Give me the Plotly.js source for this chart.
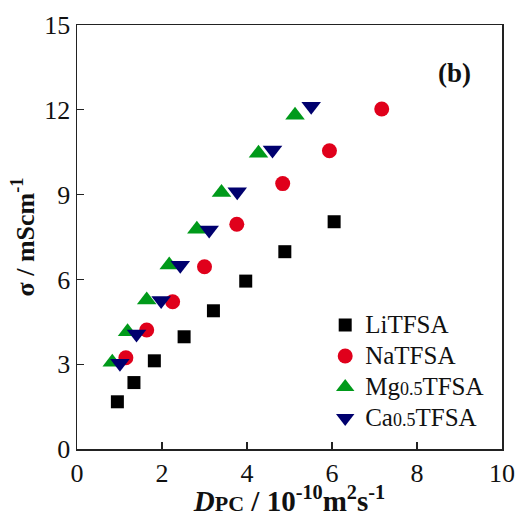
<!DOCTYPE html>
<html>
<head>
<meta charset="utf-8">
<script src="https://cdn.plot.ly/plotly-3.0.1.min.js"></script>
<style>html,body{margin:0;padding:0;background:#fff;}#chart{width:520px;height:517px;}</style>
</head>
<body>
<div id="chart"></div>
<script>
// Data
const liX = [0.95, 1.34, 1.82, 2.52, 3.21, 3.97, 4.89, 6.05];
const liY = [1.67, 2.35, 3.12, 3.97, 4.89, 5.94, 6.98, 8.04];
const naX = [1.15, 1.64, 2.25, 3.00, 3.76, 4.84, 5.94, 7.17];
const naY = [3.23, 4.21, 5.21, 6.45, 7.95, 9.39, 10.55, 12.03];
const mgX = [0.83, 1.19, 1.64, 2.17, 2.82, 3.40, 4.27, 5.13];
const mgY = [3.07, 4.15, 5.27, 6.51, 7.77, 9.07, 10.46, 11.81];
const caX = [1.01, 1.40, 1.98, 2.43, 3.11, 3.77, 4.60, 5.51];
const caY = [3.03, 4.07, 5.25, 6.50, 7.75, 9.10, 10.58, 12.13];
const big = s => '<span style="font-size:25px">' + s + '</span>';
const small = s => '<span style="font-size:18px">' + s + '</span>';
const seriesNames = [big('LiTFSA'), big('NaTFSA'),
                     big('Mg') + small('0.5') + big('TFSA'),
                     big('Ca') + small('0.5') + big('TFSA')];

const font = 'Liberation Serif, Times New Roman, serif';
const traces = [
  {x: liX, y: liY, name: seriesNames[0], mode: 'markers', type: 'scatter',
   marker: {symbol: 'square', size: 13, color: '#000000'}},
  {x: naX, y: naY, name: seriesNames[1], mode: 'markers', type: 'scatter',
   marker: {symbol: 'circle', size: 15, color: '#e0001b'}},
  {x: mgX, y: mgY, name: seriesNames[2], mode: 'markers', type: 'scatter',
   marker: {symbol: 'triangle-up', size: 17, color: '#009a1a'}},
  {x: caX, y: caY, name: seriesNames[3], mode: 'markers', type: 'scatter',
   marker: {symbol: 'triangle-down', size: 17, color: '#00006e'}}
];

const axisCommon = {
  showline: true, mirror: true, linecolor: '#222', linewidth: 1.5,
  ticks: 'inside', ticklen: 7, tickwidth: 1.2, tickcolor: '#222',
  showgrid: false, zeroline: false,
  tickfont: {family: font, size: 26, color: '#111'}
};

const layout = {
  width: 520, height: 517,
  margin: {l: 77, r: 18, t: 25, b: 68},
  paper_bgcolor: '#fff', plot_bgcolor: '#fff',
  font: {family: font, color: '#111'},
  showlegend: true,
  legend: {x: 0.584, y: 0.3405, xanchor: 'left', yanchor: 'top',
           font: {family: font, size: 21.5, color: '#111'},
           bgcolor: 'rgba(0,0,0,0)', tracegroupgap: 0, itemwidth: 30},
  xaxis: Object.assign({}, axisCommon, {
    range: [0, 10], tick0: 0, dtick: 2,
    title: {text: '<b><i>D</i><span style="font-size:22px">PC</span> / 10<sup>-10</sup>m<sup>2</sup>s<sup>-1</sup></b>',
            font: {family: font, size: 29, color: '#111'}, standoff: 20}
  }),
  yaxis: Object.assign({}, axisCommon, {
    range: [0, 15], tick0: 0, dtick: 3,
    title: {text: '<b>σ / mScm<sup>-1</sup></b>',
            font: {family: font, size: 26, color: '#111'}, standoff: 2}
  }),
  annotations: [
    {text: '<b>(b)</b>', xref: 'paper', yref: 'paper', x: 0.932, y: 0.887,
     xanchor: 'right', yanchor: 'middle', showarrow: false,
     font: {family: font, size: 27, color: '#111'}}
  ]
};

Plotly.newPlot('chart', traces, layout, {displayModeBar: false, staticPlot: true});
</script>
</body>
</html>
